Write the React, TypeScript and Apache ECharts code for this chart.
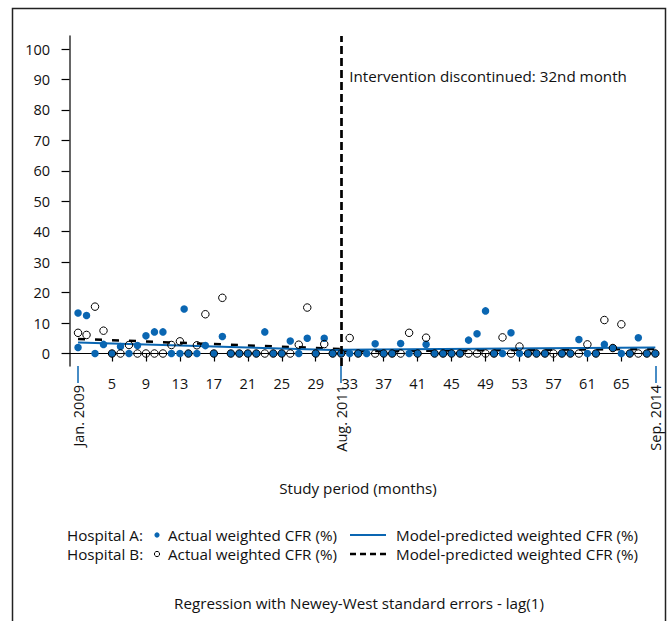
import React, { useEffect, useRef } from 'react';
import * as echarts from 'echarts';

// Study months 1..69 (Jan. 2009 .. Sep. 2014)
const hospitalAActual: (number | null)[] = [
  13.3, 12.5, 0, 3.0, 0, 2.3, 0, 2.6, 5.8, 7.1,
  7.1, 0, 0, 0, 0, 2.6, 0, 5.6, 0, 0,
  0, 0, 7.1, 0, 0, 4.1, 0, 5.0, 0, 5.0,
  0, 0, 0, 0, 0, 3.2, 0, 0, 3.3, 0,
  0, 3.0, 0, 0, 0, 0, 4.4, 6.5, 14.0, 0,
  0, 6.8, 0, 0, 0, 0, null, 0, 0, 4.6,
  0, 0, 3.0, 1.8, 0, 0, 5.2, 0, 0,
];
const hospitalAExtra: [number, number][] = [
  [1, 2.0],
  [13.5, 14.6],
];
const hospitalBActual: (number | null)[] = [
  6.8, 6.1, 15.4, 7.5, 0, 0, 2.8, 0, 0, 0,
  0, 2.8, 4.0, 0, 2.7, 12.9, 0, 18.3, 0, 0,
  0, 0, 0, 0, 0, 0, 2.9, 15.1, 0, 3.1,
  0, 0, 5.1, 0, null, 0, 0, 0, 0, 6.8,
  0, 5.2, 0, 0, 0, 0, 0, 0, 0, 0,
  5.3, 0, 2.3, 0, 0, 0, 0, 0, 0, 0,
  3.0, 0, 11.0, 1.8, 9.6, 0, 0, 0, 0,
];
const modelAPre: [number, number][] = [[1, 3.6], [32, 1.1]];
const modelAPost: [number, number][] = [[32, 1.2], [69, 2.0]];
const modelBPre: [number, number][] = [[1, 4.8], [32, 1.5]];
const modelBPost: [number, number][] = [[32, 0.7], [69, 1.5]];

const xTickValues = [5, 9, 13, 17, 21, 25, 29, 33, 37, 41, 45, 49, 53, 57, 61, 65];
const yTickValues = [0, 10, 20, 30, 40, 50, 60, 70, 80, 90, 100];
const dateTicks = [1, 32, 69];
const dateLabels = ['Jan. 2009', 'Aug. 2011', 'Sep. 2014'];
const interventionMonth = 32;
const interventionText = 'Intervention discontinued: 32nd month';

const BLUE = '#0a66b2';
const FONT = 'Open Sans';
const FS = 14.5;
const FS_TEXT = 15.2;
const TXT = '#111';

function toPairs(vals: (number | null)[]): [number, number][] {
  const out: [number, number][] = [];
  vals.forEach((v, i) => {
    if (v !== null) out.push([i + 1, v]);
  });
  return out;
}

export default function App() {
  const ref = useRef<HTMLDivElement>(null);
  useEffect(() => {
    if (!ref.current) return;
    const chart = echarts.init(ref.current, undefined, { renderer: 'svg' });
    const lbl = { fontFamily: FONT, fontSize: FS, color: TXT };
    chart.setOption({
      animation: false,
      grid: { left: 67, right: 15, top: 36, bottom: 255, containLabel: false },
      xAxis: [
        {
          type: 'value',
          min: -0.3,
          max: 69.2,
          axisLine: { show: true, lineStyle: { color: '#000', width: 1.2 } },
          axisTick: { show: true, customValues: xTickValues, length: 8, lineStyle: { color: '#000', width: 1.2 } },
          axisLabel: { show: true, customValues: xTickValues, margin: 10, ...lbl },
          splitLine: { show: false },
        },
        {
          type: 'value',
          position: 'bottom',
          offset: 0,
          min: -0.3,
          max: 69.2,
          axisLine: { show: false },
          axisTick: { show: true, customValues: dateTicks, length: 17, lineStyle: { color: BLUE, width: 1.5 } },
          axisLabel: {
            show: true,
            customValues: dateTicks,
            rotate: 90,
            margin: 19,
            ...lbl,
            formatter: (v: number) => dateLabels[dateTicks.indexOf(v)] ?? '',
          },
          splitLine: { show: false },
        },
      ],
      yAxis: {
        type: 'value',
        min: -4.1,
        max: 104.3,
        axisLine: { show: true, lineStyle: { color: '#333', width: 1.5 } },
        axisTick: { show: true, customValues: yTickValues, length: 8, lineStyle: { color: '#000', width: 1.2 } },
        axisLabel: { show: true, customValues: yTickValues, margin: 17, padding: [0, 0, 6, 0], ...lbl },
        splitLine: { show: false },
      },
      series: [
        {
          type: 'line', data: modelBPre, symbol: 'none', z: 2,
          lineStyle: { color: '#000', width: 2.5, type: [7, 10] },
          markLine: {
            silent: true, symbol: 'none', label: { show: false },
            lineStyle: { color: '#000', width: 2.7, type: [8, 4] },
            data: [{ xAxis: interventionMonth }],
          },
        },
        { type: 'line', data: modelBPost, symbol: 'none', z: 2, lineStyle: { color: '#000', width: 2.5, type: [7, 10] } },
        { type: 'line', data: modelAPre, symbol: 'none', z: 3, lineStyle: { color: BLUE, width: 2 } },
        { type: 'line', data: modelAPost, symbol: 'none', z: 3, lineStyle: { color: BLUE, width: 2 } },
        {
          type: 'scatter', data: [...toPairs(hospitalAActual), ...hospitalAExtra], symbolSize: 7.5, z: 4, clip: false,
          itemStyle: { color: BLUE, opacity: 1 },
        },
        {
          type: 'scatter', data: toPairs(hospitalBActual), symbolSize: 7.5, z: 5, clip: false,
          itemStyle: { color: 'rgba(255,255,255,0)', borderColor: '#000', borderWidth: 1, opacity: 1 },
        },
      ],
    });

    const ix = chart.convertToPixel({ xAxisIndex: 0 }, interventionMonth) as number;
    const iy = chart.convertToPixel({ yAxisIndex: 0 }, 91) as number;
    const t = (text: string, x: number, y: number, align: string = 'left') => ({
      type: 'text', x, y,
      style: { text, fill: TXT, font: `${FS_TEXT}px "${FONT}"`, align, verticalAlign: 'middle' },
    });
    const r1 = 535;
    const r2 = 554;
    chart.setOption({
      graphic: [
        { type: 'rect', shape: { x: 12.5, y: 8.5, width: 653, height: 640 }, style: { fill: 'none', stroke: '#222', lineWidth: 1.5 }, silent: true },
        t(interventionText, ix + 8, iy),
        t('Study period (months)', 358, 488, 'center'),
        t('Hospital A:', 67, r1),
        { type: 'circle', shape: { cx: 157, cy: r1, r: 2.6 }, style: { fill: BLUE } },
        t('Actual weighted CFR (%)', 168, r1),
        { type: 'line', shape: { x1: 350, y1: r1, x2: 386, y2: r1 }, style: { stroke: BLUE, lineWidth: 2 } },
        t('Model-predicted weighted CFR (%)', 396, r1),
        t('Hospital B:', 67, r2),
        { type: 'circle', shape: { cx: 157, cy: r2, r: 2.6 }, style: { fill: '#fff', stroke: '#000', lineWidth: 1 } },
        t('Actual weighted CFR (%)', 168, r2),
        { type: 'line', shape: { x1: 350, y1: r2, x2: 386, y2: r2 }, style: { stroke: '#000', lineWidth: 2.5, lineDash: [6, 4] } },
        t('Model-predicted weighted CFR (%)', 396, r2),
        t('Regression with Newey-West standard errors - lag(1)', 359, 603, 'center'),
      ],
    });
    return () => chart.dispose();
  }, []);
  return <div ref={ref} style={{ position: 'absolute', left: 0, top: 0, width: 672, height: 621 }} />;
}
